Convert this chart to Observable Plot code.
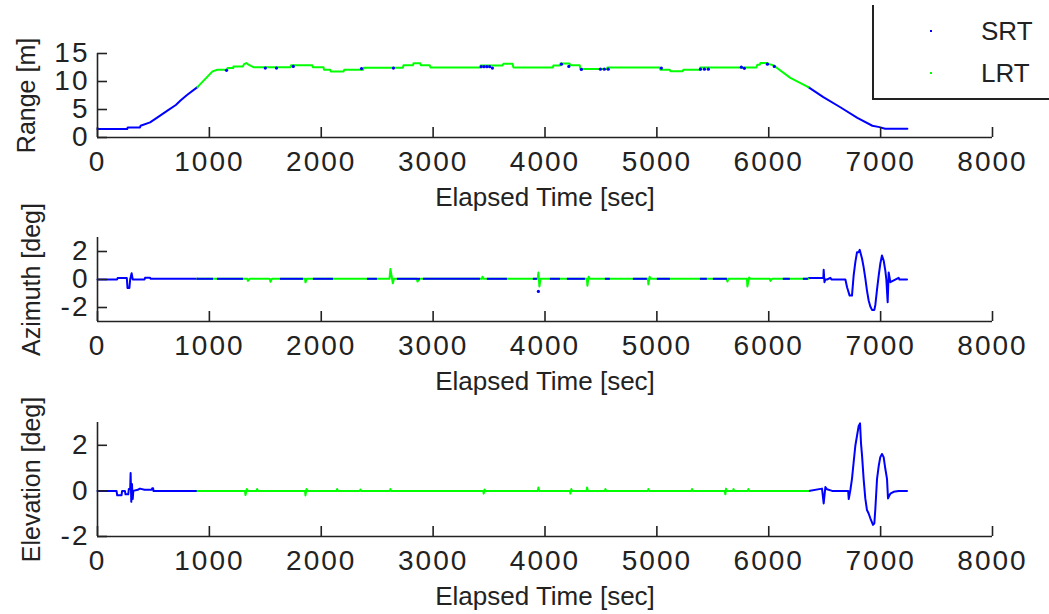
<!DOCTYPE html>
<html><head><meta charset="utf-8">
<script src="https://cdn.jsdelivr.net/npm/d3@7"></script>
<script src="https://cdn.jsdelivr.net/npm/@observablehq/plot@0.6"></script>
<style>
body{margin:0;background:#fff;}
#wrap{position:relative;width:1049px;height:614px;overflow:hidden;font-family:"Liberation Sans",Arial,sans-serif;background:#fff;}
.panel{position:absolute;left:0;top:0;}
.panel [aria-label$="tick label"] text{letter-spacing:2px;}
#legend{position:absolute;left:872px;top:5px;width:200px;height:93px;border-left:2px solid #222;border-bottom:2px solid #222;}
.lg{position:absolute;left:107px;font-size:26px;color:#222;line-height:26px;}
.dot{position:absolute;left:56px;width:2px;height:2px;}
</style></head>
<body><div id="wrap"><div id="legend"></div></div>
<script>
// ---------- data (elapsed time [sec], value) ----------
const xTicks = [0,1000,2000,3000,4000,5000,6000,7000,8000];
const seriesNames = ["SRT","LRT"];
const seriesColors = ["#0000ff","#00ff00"];

// Range [m]
const rangeSRT = [[0,1.5],[265,1.5],[270,1.8],[380,1.8],[385,2.1],[470,2.7],[530,3.5],[625,4.8],[700,5.8],[742,6.6],[800,7.6],[893,9.0],
  [null,null],
  [6354,9.0],[6488,7.2],[6640,5.4],[6792,3.5],[6926,2.1],[6990,1.85],[7040,1.55],[7239,1.55]];
const rangeLRT = [[893,9.0],[1028,11.8],[1072,12.1],[1160,12.1],[1162,12.4],[1213,12.4],[1215,12.7],[1300,12.7],[1310,13.1],[1330,13.3],[1350,13.0],[1394,12.55],
  [1725,12.55],[1730,12.9],[1920,12.9],[1925,12.55],[2020,12.55],[2025,12.1],[2080,12.1],[2085,11.8],[2200,11.8],[2205,12.1],[2375,12.1],[2380,12.45],
  [2730,12.45],[2735,12.9],[2820,12.9],[2825,13.25],[2885,13.25],[2890,12.9],[2970,12.9],[2976,12.5],[3420,12.5],[3425,12.85],[3620,12.85],[3628,13.15],
  [3710,13.15],[3718,12.5],[4070,12.5],[4075,12.85],[4135,12.85],[4138,13.2],[4220,13.2],[4227,12.9],[4310,12.9],[4316,12.25],[4555,12.25],[4558,12.5],
  [5025,12.5],[5031,12.1],[5115,12.1],[5121,11.85],[5230,11.85],[5237,12.1],[5385,12.1],[5388,12.5],[5890,12.5],[5898,13.0],[5920,13.0],[5925,13.3],
  [5990,13.3],[5996,13.15],[6041,12.9],[6193,10.65],[6354,9.0]];
const rangeSRTmid = [[1153,12.0],[1500,12.4],[1600,12.4],[1750,12.7],[2360,12.3],[2645,12.4],[3430,12.65],[3455,12.65],[3480,12.65],[3505,12.65],
  [3530,12.4],[4147,13.1],[4213,12.7],[4325,12.15],[4495,12.2],[4530,12.2],[4565,12.2],[5040,12.4],[5390,12.2],[5425,12.2],[5460,12.2],
  [5755,12.55],[5782,12.35],[5988,13.1],[6050,12.7]];

// Azimuth [deg]
const azSRT = [[0,0],[175,0],[180,0.1],[262,0.1],[268,-0.6],[285,-0.6],[292,0.0],[305,0.45],[315,0.0],[330,0.0],[420,0.0],[425,0.12],[470,0.12],[475,0.05],[893,0.05],
  [null,null],
  [6357,0.1],[6488,0.1],[6491,0.7],[6498,-0.2],[6506,0.0],[6521,0.0],[6551,0.12],[6560,0.0],[6685,0.0],[6700,-0.55],[6723,-1.15],[6744,-1.15],
  [6759,0.3],[6774,1.24],[6789,1.95],[6804,1.95],[6813,2.12],[6834,1.48],[6848,0.88],[6863,0.1],[6878,-0.79],[6893,-1.5],[6908,-1.93],[6923,-2.17],
  [6944,-2.17],[6953,-1.8],[6968,-0.7],[6983,0.29],[6997,1.12],[7012,1.71],[7027,1.36],[7042,0.64],[7051,0.0],[7063,-1.62],[7072,0.5],[7087,-0.19],
  [7161,0.12],[7168,0.0],[7236,0.0]];
const azLRT = [[893,0.05],[1340,0.05],[1345,-0.1],[1360,0.05],[1540,0.05],[1546,-0.17],[1560,0.05],[1855,0.05],[1859,-0.2],[1870,0.05],
  [2610,0.05],[2618,0.75],[2640,-0.27],[2650,0.05],[2855,0.05],[2860,-0.15],[2880,0.05],[3436,0.05],[3441,0.2],[3450,0.05],
  [3935,0.05],[3941,0.5],[3950,-0.5],[3960,0.05],[4375,0.05],[4379,-0.45],[4390,0.2],[4400,0.05],[4920,0.05],[4924,-0.35],[4935,0.2],[4945,0.05],
  [5625,0.05],[5630,-0.15],[5640,0.05],[5805,0.05],[5809,-0.5],[5825,0.15],[5835,0.05],[6010,0.05],[6014,-0.1],[6030,0.05],[6354,0.05]];
const azSRTmidStart = [893,1072,1635,1930,2413,2681,2913,3485,3896,4048,4200,4540,4790,5004,5389,5505,6130,6309];
const azSRTmidEnd   = [1037,1305,1841,2109,2502,2887,3423,3664,3932,4138,4361,4584,4915,5121,5451,5630,6193,6354];
const azSRTdots = [[3941,-0.85]];

// Elevation [deg]
const elSRT = [[0,0],[170,0],[176,-0.19],[215,-0.19],[220,0],[245,0],[250,-0.15],[275,-0.15],[280,0.08],[292,0.08],[296,0.78],[302,-0.48],
  [308,0.3],[315,-0.35],[320,0],[360,0.05],[380,0.1],[420,0.05],[485,0.05],[489,0.12],[497,0.12],[500,0],[893,0],
  [null,null],
  [6357,0],[6476,0.1],[6491,-0.55],[6506,0.17],[6521,0.07],[6566,0],[6710,0],[6715,-0.36],[6730,0.05],[6744,0.53],[6759,1.26],[6774,1.98],
  [6789,2.42],[6804,2.85],[6816,2.96],[6825,2.06],[6834,1.55],[6848,0.53],[6863,-0.33],[6878,-0.84],[6893,-0.99],[6908,-1.2],[6932,-1.49],
  [6944,-1.42],[6953,-0.77],[6968,0.53],[6983,1.1],[6997,1.48],[7012,1.62],[7027,1.48],[7042,0.97],[7057,0.53],[7066,-0.33],[7087,-0.12],
  [7116,-0.04],[7161,0],[7236,0]];
const elLRT = [[893,0],[1318,0],[1323,-0.18],[1335,0.08],[1345,0],[1423,0],[1427,0.08],[1435,0],[1855,0],[1859,-0.2],[1868,0.08],[1880,0],
  [2138,0],[2142,0.08],[2150,0],[2345,0],[2350,0.06],[2356,0],[2614,0],[2618,0.08],[2625,0],[3448,0],[3452,-0.12],[3460,0.06],[3468,0],
  [3936,0],[3941,0.15],[3948,0],[4223,0],[4227,-0.12],[4235,0.08],[4242,0],[4372,0],[4376,0.15],[4384,0],[4536,0],[4540,0.08],[4548,0],
  [4920,0],[4924,0.08],[4932,0],[5310,0],[5314,0.08],[5322,0],[5605,0],[5612,-0.15],[5618,0.1],[5626,0],[5681,0],[5685,0.08],[5692,0],
  [5814,0],[5818,0.08],[5826,0],[6354,0]];

// ---------- drawing ----------
const INK = "#222";
const FONT = "Liberation Sans, Arial, sans-serif";
const X = d => d[0] == null ? NaN : d[0];
const Y = d => d[1] == null ? NaN : d[1];
const fmt = d => String(d);

function panel({marginTop, marginBottom, yDomain, yTicks, yLabel, yLabelDx, extra}) {
  const marks = [
    ...extra,
    Plot.ruleX([0], {stroke: INK, strokeWidth: 1.6}),
    Plot.ruleY([yDomain[0]], {stroke: INK, strokeWidth: 1.6}),
    Plot.axisX(xTicks, {tickSize: -10, tickPadding: 24, fontSize: 28, stroke: INK, fill: INK, label: null, strokeWidth: 1.6, tickFormat: fmt}),
    Plot.axisY(yTicks, {anchor: "left", tickSize: -10, tickPadding: 18, fontSize: 28, stroke: INK, fill: INK, label: null, strokeWidth: 1.6, tickFormat: fmt}),
    Plot.text(["Elapsed Time [sec]"], {frameAnchor: "bottom", dy: 60, fontSize: 26, fill: INK, lineAnchor: "middle", textAnchor: "middle"}),
    Plot.text([yLabel], {frameAnchor: "left", dx: yLabelDx, rotate: -90, fontSize: 25, fill: INK, lineAnchor: "middle", textAnchor: "middle"})
  ];
  const svg = Plot.plot({
    width: 1049, height: 614, marginLeft: 97, marginRight: 57, marginTop, marginBottom,
    style: {fontFamily: FONT, background: "transparent", color: INK},
    x: {domain: [0, 8000]},
    y: {domain: yDomain},
    marks
  });
  svg.classList.add("panel");
  document.getElementById("wrap").appendChild(svg);
}

const lw = 2;
panel({marginTop: 53, marginBottom: 477, yDomain: [0, 15], yTicks: [0,5,10,15], yLabel: "Range [m]", yLabelDx: -71,
  extra: [
    Plot.line(rangeSRT, {x: X, y: Y, stroke: seriesColors[0], strokeWidth: lw}),
    Plot.line(rangeLRT, {x: X, y: Y, stroke: seriesColors[1], strokeWidth: lw}),
    Plot.dot(rangeSRTmid, {x: X, y: Y, r: 1.6, fill: seriesColors[0], stroke: null})
  ]});

panel({marginTop: 237, marginBottom: 293, yDomain: [-3, 3], yTicks: [-2,0,2], yLabel: "Azimuth [deg]", yLabelDx: -66,
  extra: [
    Plot.line(azSRT, {x: X, y: Y, stroke: seriesColors[0], strokeWidth: lw}),
    Plot.line(azLRT, {x: X, y: Y, stroke: seriesColors[1], strokeWidth: lw}),
    Plot.ruleY(azSRTmidStart.map((s, i) => ({s, e: azSRTmidEnd[i]})), {x1: "s", x2: "e", y: 0.05, stroke: seriesColors[0], strokeWidth: lw}),
    Plot.dot(azSRTdots, {x: X, y: Y, r: 1.6, fill: seriesColors[0], stroke: null})
  ]});

panel({marginTop: 422, marginBottom: 78, yDomain: [-2, 3], yTicks: [-2,0,2], yLabel: "Elevation [deg]", yLabelDx: -66,
  extra: [
    Plot.line(elSRT, {x: X, y: Y, stroke: seriesColors[0], strokeWidth: lw}),
    Plot.line(elLRT, {x: X, y: Y, stroke: seriesColors[1], strokeWidth: lw})
  ]});

// legend
const legend = document.getElementById("legend");
document.getElementById("wrap").appendChild(legend);
legend.style.zIndex = 5;
seriesNames.forEach((name, i) => {
  const cy = [26, 68][i];
  const d = document.createElement("div");
  d.className = "dot"; d.style.top = (cy - 1) + "px"; d.style.background = seriesColors[i];
  legend.appendChild(d);
  const t = document.createElement("div");
  t.className = "lg"; t.style.top = (cy - 13) + "px"; t.textContent = name;
  legend.appendChild(t);
});
</script>
</body></html>
